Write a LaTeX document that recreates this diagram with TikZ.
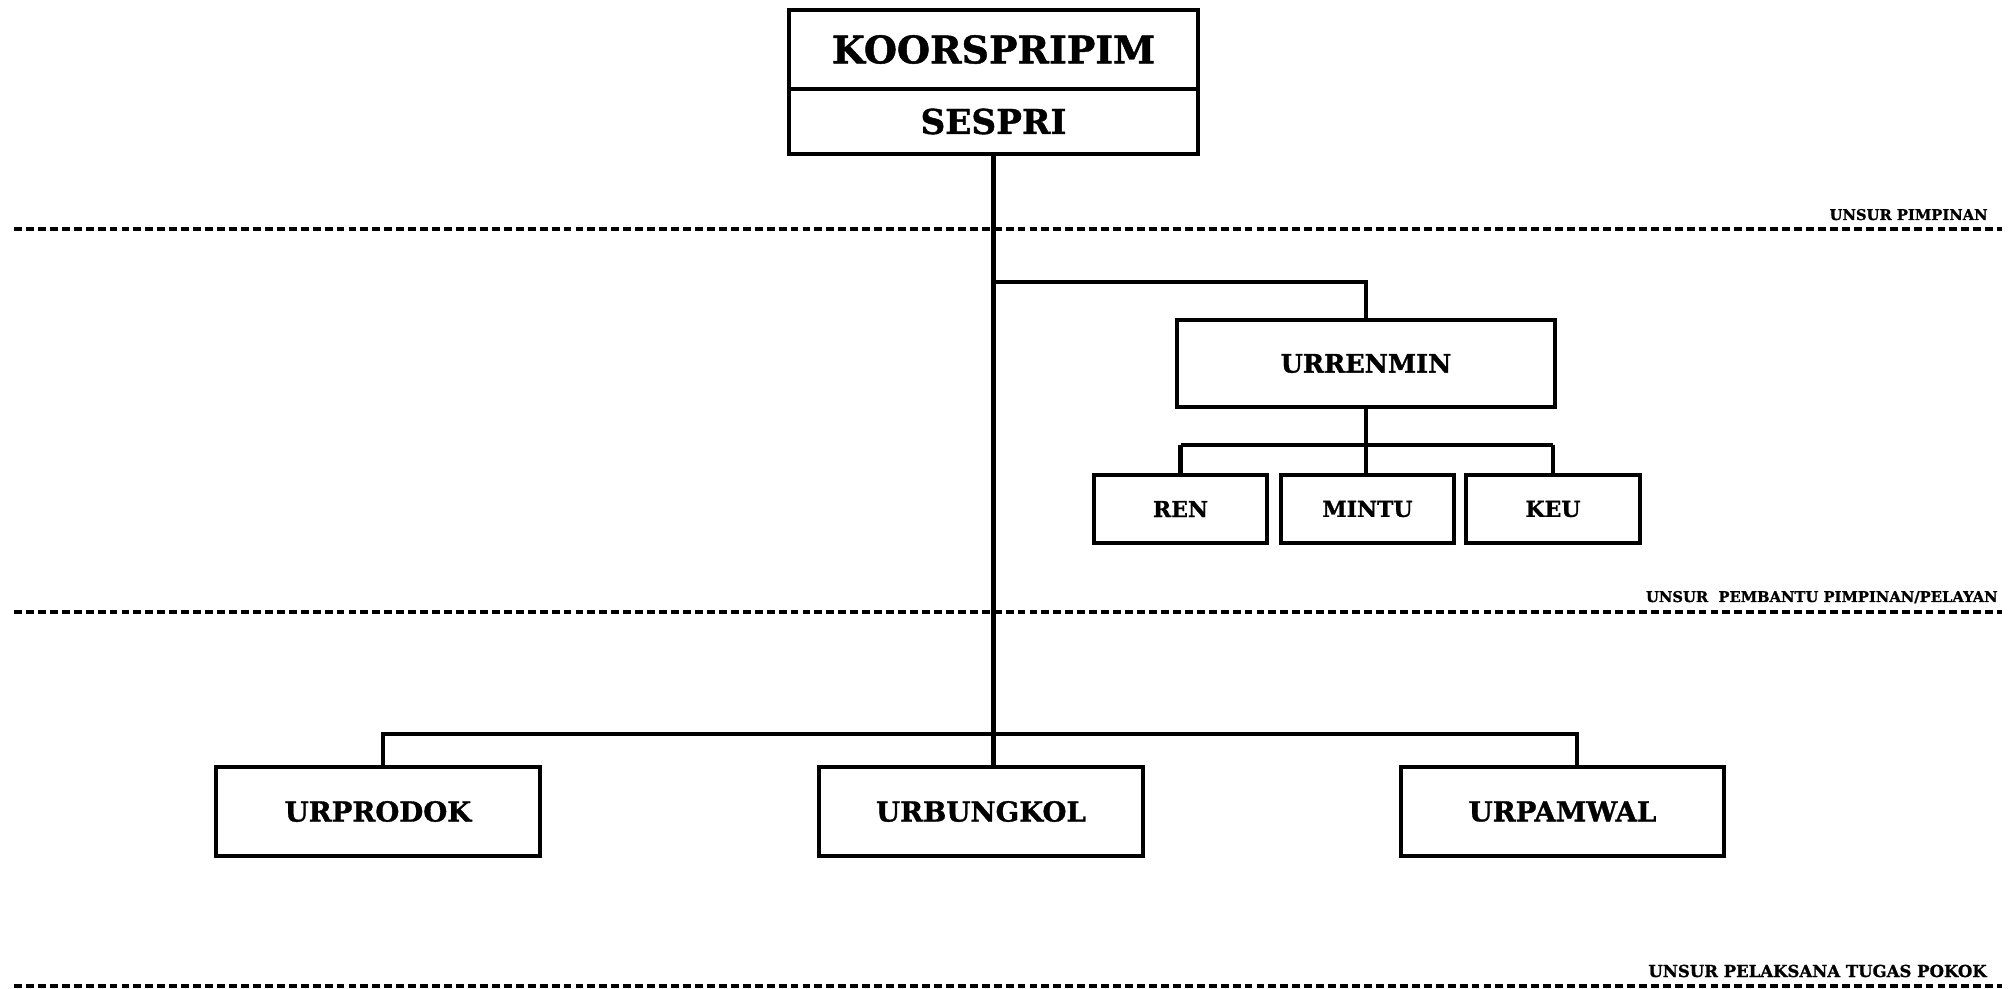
\documentclass[tikz,border=0pt]{standalone}
\usepackage{fontspec}
\setmainfont{DejaVu Serif}
\newfontfamily\orgfont[FakeBold=1.2]{DejaVu Serif}
\usetikzlibrary{calc}

\begin{document}
\begin{tikzpicture}[x=0.02cm,y=-0.02cm,
  unitbox/.style={draw, line width=2.6pt, inner sep=0pt, align=center},
  conn/.style={line width=2.4pt},
  sepline/.style={line width=1.9pt, dash pattern=on 4.5pt off 2.3pt},
  level/.style={anchor=base east, inner sep=0pt, font=\orgfont\bfseries\fontsize{8.4}{9}\selectfont}]
\useasboundingbox (0,0) rectangle (2015,989);

% Drawing level lines
\draw[sepline] (14,229) -- (2002,229);
\draw[sepline] (14,612) -- (2002,612);
\draw[sepline] (14,986) -- (2002,986);
\node[level] (lvlpim) at (1988,220) {UNSUR PIMPINAN};
\node[level] (lvlban) at (1998,602) {UNSUR\ \ PEMBANTU PIMPINAN/PELAYAN};
\node[level, font=\orgfont\bfseries\fontsize{9.4}{10}\selectfont] (lvlpel) at (1987,977) {UNSUR PELAKSANA TUGAS POKOK};

% Drawing units
\node[unitbox, minimum width=8.18cm, minimum height=1.58cm, font=\orgfont\bfseries\fontsize{21.6}{23}\selectfont] (koor) at (993.5,49.5) {KOORSPRIPIM};
\node[unitbox, minimum width=8.18cm, minimum height=1.30cm, font=\orgfont\bfseries\fontsize{19.5}{21}\selectfont] (sespri) at (993.5,121.5) {SESPRI};
\node[unitbox, minimum width=7.56cm, minimum height=1.74cm, font=\orgfont\bfseries\fontsize{14.5}{16}\selectfont] (renmin) at (1366,363.5) {URRENMIN};
\node[unitbox, minimum width=3.46cm, minimum height=1.36cm, font=\orgfont\bfseries\fontsize{12.5}{14}\selectfont] (ren) at (1180.5,509) {REN};
\node[unitbox, minimum width=3.46cm, minimum height=1.36cm, font=\orgfont\bfseries\fontsize{12.5}{14}\selectfont] (mintu) at (1367.5,509) {MINTU};
\node[unitbox, minimum width=3.48cm, minimum height=1.36cm, font=\orgfont\bfseries\fontsize{12.5}{14}\selectfont] (keu) at (1553,509) {KEU};
\node[unitbox, minimum width=6.48cm, minimum height=1.78cm, font=\orgfont\bfseries\fontsize{15.7}{17}\selectfont] (prodok) at (378,811.5) {URPRODOK};
\node[unitbox, minimum width=6.48cm, minimum height=1.78cm, font=\orgfont\bfseries\fontsize{15.7}{17}\selectfont] (bungkol) at (981,811.5) {URBUNGKOL};
\node[unitbox, minimum width=6.46cm, minimum height=1.78cm, font=\orgfont\bfseries\fontsize{15.7}{17}\selectfont] (pamwal) at (1562.5,811.5) {URPAMWAL};

% Drawing lines
\coordinate (split) at ($(sespri.south)+(0,126)$);
\coordinate (bus) at ($(sespri.south)+(0,578)$);
\draw[conn] (sespri.south) -- (bungkol.north -| sespri.south);
\draw[conn] (split) -| (renmin.north);
\draw[conn] (renmin.south) -- (renmin.south |- mintu.north);
\draw[conn] ($(ren.north)+(0,-28)$) -- ($(keu.north)+(0,-28)$);
\draw[conn] ($(ren.north)+(0,-28)$) -- (ren.north);
\draw[conn] ($(keu.north)+(0,-28)$) -- (keu.north);
\draw[conn] ([xshift=0.1cm]prodok.north) |- (bus) -| ([xshift=0.29cm]pamwal.north);
\end{tikzpicture}
\end{document}
